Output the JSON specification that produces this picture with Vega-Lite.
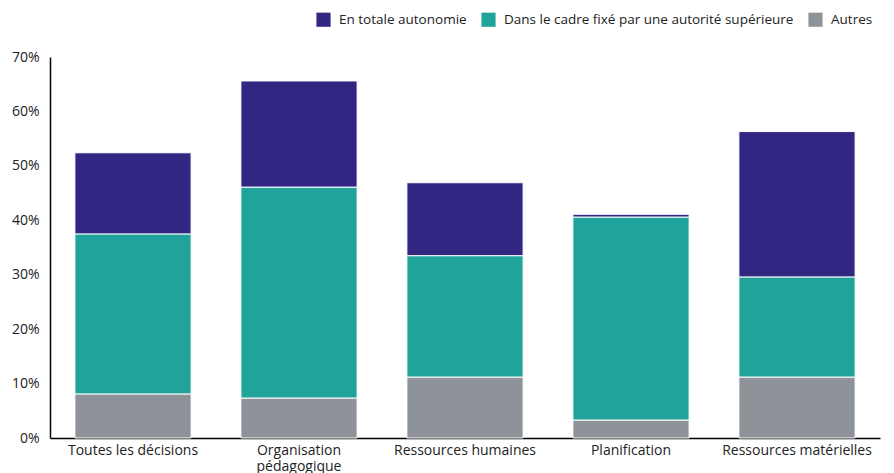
{
  "$schema": "https://vega.github.io/schema/vega-lite/v6.json",
  "autosize": "none",
  "width": 830,
  "height": 381,
  "padding": {"left": 50, "top": 57, "right": 14, "bottom": 35},
  "background": "white",
  "config": {
    "view": {"stroke": null},
    "font": "Open Sans",
    "axis": {"labelFont": "Open Sans", "labelFontSize": 14, "labelColor": "#222222", "grid": false, "ticks": false, "domainColor": "#000000", "domainWidth": 1.5}
  },
  "data": {
    "values": [
      {"cat": "Toutes les décisions", "type": "Autres", "o": 1, "v": 8.1},
      {"cat": "Toutes les décisions", "type": "Dans le cadre fixé par une autorité supérieure", "o": 2, "v": 29.4},
      {"cat": "Toutes les décisions", "type": "En totale autonomie", "o": 3, "v": 14.9},
      {"cat": "Organisation pédagogique", "type": "Autres", "o": 1, "v": 7.35},
      {"cat": "Organisation pédagogique", "type": "Dans le cadre fixé par une autorité supérieure", "o": 2, "v": 38.75},
      {"cat": "Organisation pédagogique", "type": "En totale autonomie", "o": 3, "v": 19.5},
      {"cat": "Ressources humaines", "type": "Autres", "o": 1, "v": 11.2},
      {"cat": "Ressources humaines", "type": "Dans le cadre fixé par une autorité supérieure", "o": 2, "v": 22.3},
      {"cat": "Ressources humaines", "type": "En totale autonomie", "o": 3, "v": 13.4},
      {"cat": "Planification", "type": "Autres", "o": 1, "v": 3.3},
      {"cat": "Planification", "type": "Dans le cadre fixé par une autorité supérieure", "o": 2, "v": 37.3},
      {"cat": "Planification", "type": "En totale autonomie", "o": 3, "v": 0.5},
      {"cat": "Ressources matérielles", "type": "Autres", "o": 1, "v": 11.2},
      {"cat": "Ressources matérielles", "type": "Dans le cadre fixé par une autorité supérieure", "o": 2, "v": 18.4},
      {"cat": "Ressources matérielles", "type": "En totale autonomie", "o": 3, "v": 26.7}
    ]
  },
  "mark": {"type": "bar", "stroke": "white", "strokeWidth": 1},
  "encoding": {
    "x": {
      "field": "cat", "type": "nominal", "sort": null, "title": null,
      "scale": {"paddingInner": 0.3, "paddingOuter": 0.15},
      "axis": {"labelAngle": 0, "labelPadding": 5, "labelLineHeight": 16, "labelLimit": 0, "labelExpr": "datum.label == 'Organisation pédagogique' ? ['Organisation', 'pédagogique'] : datum.label"}
    },
    "y": {
      "field": "v", "type": "quantitative", "title": null, "stack": "zero",
      "scale": {"domain": [0, 70], "nice": false},
      "axis": {"values": [0, 10, 20, 30, 40, 50, 60, 70], "labelExpr": "datum.value + '%'", "labelPadding": 11}
    },
    "order": {"field": "o", "type": "quantitative"},
    "color": {
      "field": "type", "type": "nominal",
      "scale": {
        "domain": ["En totale autonomie", "Dans le cadre fixé par une autorité supérieure", "Autres"],
        "range": ["#312783", "#20A39A", "#8E9299"]
      },
      "legend": {
        "title": null, "orient": "none", "legendX": 266, "legendY": -45, "direction": "horizontal",
        "symbolType": "square", "symbolSize": 200, "symbolStrokeWidth": 0, "labelFontSize": 13.5, "labelLimit": 0, "labelColor": "#222222", "columnPadding": 14, "labelOffset": 8
      }
    }
  }
}
